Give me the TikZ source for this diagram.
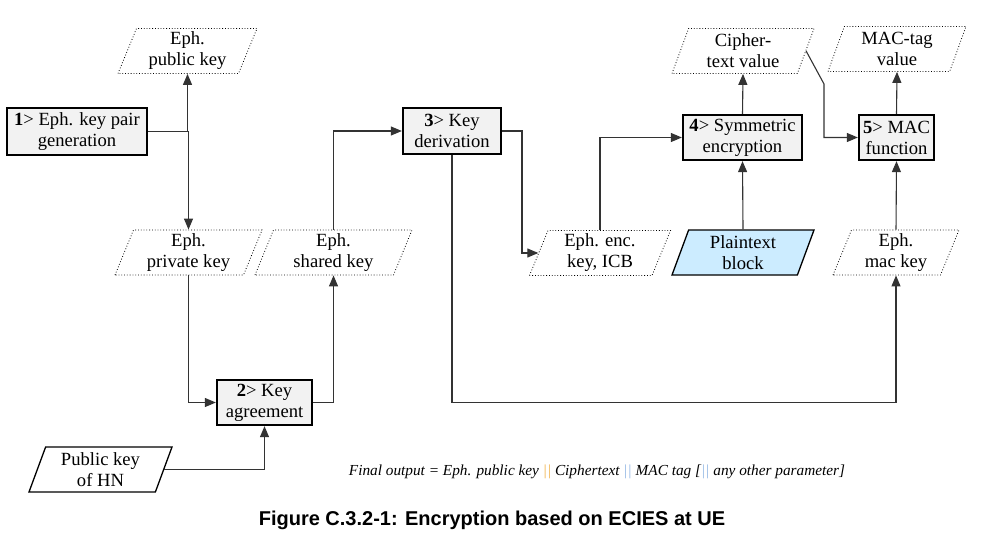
\documentclass[tikz,border=0pt]{standalone}
\usepackage{fontspec}
\setmainfont{Liberation Serif}
\newfontfamily\capfont{Liberation Sans}
\usetikzlibrary{shapes.geometric,arrows.meta}
\definecolor{plainblue}{RGB}{204,236,255}
\definecolor{sepor}{RGB}{240,176,70}
\definecolor{sepbl}{RGB}{142,180,227}
\tikzset{
  txt/.style={font=\fontsize{18.6}{21}\selectfont, align=center},
  proc/.style={txt, draw, line width=2.3pt, fill=gray!10, inner sep=0pt},
  datab/.style={txt, trapezium, trapezium left angle=64, trapezium right angle=116,
     trapezium stretches body, inner sep=0pt, minimum height=45pt},
  dat/.style={datab, draw, dotted, line width=0.8pt},
  soliddat/.style={datab, draw, line width=1.3pt},
  conn/.style={draw=black!80, line width=1.1pt},
  arr/.style={conn, -{Triangle[length=11pt,width=9pt]}}
}
\newcommand{\sepo}{{\color{sepor}||}}
\newcommand{\sepb}{{\color{sepbl}||}}
\begin{document}
\begin{tikzpicture}[x=1pt,y=-1pt]
\useasboundingbox (0,0) rectangle (984,551);
% process boxes
\node[proc, minimum width=140pt, minimum height=47pt] (b1) at (77,131.5) {\textbf{1}> Eph. key pair\\generation};
\node[proc, minimum width=95pt, minimum height=45pt] (b2) at (264.5,402.5) {\textbf{2}> Key\\agreement};
\node[proc, minimum width=98pt, minimum height=46pt] (b3) at (452,131) {\textbf{3}> Key\\derivation};
\node[proc, minimum width=119pt, minimum height=45pt] (b4) at (742.5,137.5) {\textbf{4}> Symmetric\\encryption};
\node[proc, minimum width=75pt, minimum height=45pt] (b5) at (896.5,137.5) {\textbf{5}> MAC\\function};
% data
\node[dat, minimum width=139pt] (pub) at (187.5,51) {Eph.\\public key};
\node[dat, minimum width=147pt] (priv) at (188.5,252.5) {Eph.\\private key};
\node[dat, minimum width=157pt] (shared) at (333.5,252.5) {Eph.\\shared key};
\node[soliddat, minimum width=143pt] (hn) at (100.5,469.5) {Public key\\of HN};
\node[dat, minimum width=141pt] (enc) at (600,253) {Eph. enc.\\key, ICB};
\node[soliddat, fill=plainblue, minimum width=142pt] (plain) at (743,252.5) {Plaintext\\block};
\node[dat, minimum width=142pt] (cipher) at (743,51) {Cipher-\\text value};
\node[dat, minimum width=138pt] (mactag) at (897,49) {MAC-tag\\value};
\node[dat, minimum width=126pt] (mackey) at (896,252.5) {Eph.\\mac key};
% connectors
\draw[arr] (b1.east) -| (pub.south);
\draw[arr] (b1.east) -| (priv.north);
\draw[arr] (priv.south) |- (b2.west);
\draw[arr] (hn.east) -| (b2.south);
\draw[arr] (b2.east) -| (shared.south);
\draw[arr] (shared.north) |- (b3.west);
\coordinate (t3) at (522,131);
\draw[arr] (b3.east) -- (t3) |- (enc.west);
\coordinate (kb) at (452,402.5);
\draw[arr] (b3.south) -- (kb) -| (mackey.south);
\draw[arr] (enc.north) |- (b4.west);
\draw[arr] (plain.north) -- (b4.south);
\draw[arr] (b4.north) -- (cipher.south);
\coordinate (cb) at (824,84);
\draw[arr] (cipher.east) -- (cb) |- (b5.west);
\draw[arr] (mackey.north) -- (b5.south);
\draw[arr] (b5.north) -- (mactag.south);
% texts
\node[font=\fontsize{15.3}{18}\selectfont\itshape] (fo) at (597,472)
  {Final output = Eph. public key \sepo{} Ciphertext \sepb{} MAC tag [\sepb{} any other parameter]};
\node[font=\capfont\bfseries\fontsize{20}{24}\selectfont] (cap) at (492,520)
  {Figure C.3.2-1: Encryption based on ECIES at UE};
\end{tikzpicture}
\end{document}
